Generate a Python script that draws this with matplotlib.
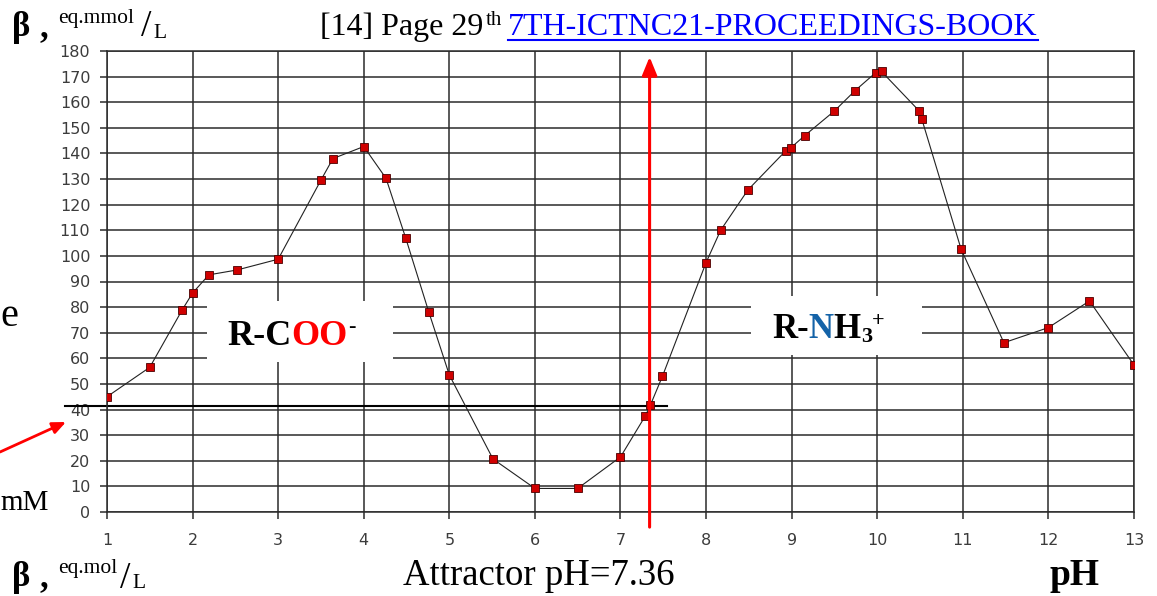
import matplotlib
matplotlib.use("Agg")
import matplotlib.pyplot as plt
from matplotlib.transforms import IdentityTransform
from matplotlib.patches import Rectangle

# ---------------- data ----------------
ph = [1.0, 1.5, 1.88, 2.0, 2.19, 2.52, 3.0, 3.5, 3.64, 4.0, 4.26, 4.49, 4.76,
      5.0, 5.51, 6.0, 6.5, 7.0, 7.29, 7.35, 7.49, 8.0, 8.17, 8.49, 8.93, 8.99,
      9.15, 9.5, 9.74, 9.98, 10.05, 10.49, 10.52, 10.98, 11.48, 12.0, 12.48, 13.0]
beta = [45, 56.5, 79, 85.5, 92.6, 94.5, 98.7, 129.6, 138, 142.7, 130.3, 107,
        78.1, 53.5, 20.7, 9.2, 9.2, 21.5, 37.5, 41.8, 53, 97.4, 110, 125.8, 141,
        142.2, 146.9, 156.6, 164.5, 171.5, 172, 156.6, 153.5, 102.6, 66.1, 72,
        82.4, 57.4]
x_ticks = list(range(1, 14))
y_ticks = list(range(0, 181, 10))
attractor_ph = 7.34
attractor_beta = 41.4

W, H = 1157, 596
fig = plt.figure(figsize=(W / 100, H / 100), dpi=100)
fig.patch.set_facecolor("white")

L, R, T, B = 107, 1134, 51, 512
ax = fig.add_axes([L / W, 1 - B / H, (R - L) / W, (B - T) / H])
ax.set_xlim(1, 13)
ax.set_ylim(0, 180)
ax.set_xticks(x_ticks)
ax.set_yticks(y_ticks)
ax.set_axisbelow(True)
grid_c = "#2b2b2b"
ax.grid(True, color=grid_c, linewidth=1.1)
for s in ax.spines.values():
    s.set_color(grid_c)
    s.set_linewidth(1.1)
ax.tick_params(direction="out", length=5, width=1.1, color=grid_c,
               labelcolor="#3c3c3c", labelsize=11.5)
ax.tick_params(axis="y", pad=7)
ax.tick_params(axis="x", pad=10)
for lab in ax.get_xticklabels() + ax.get_yticklabels():
    lab.set_family("DejaVu Sans")

# white label boxes covering the grid
ax.add_patch(Rectangle((2.168, 58.6), 4.341 - 2.168, 82.4 - 58.6,
                       facecolor="white", edgecolor="none", zorder=1))
ax.add_patch(Rectangle((8.523, 61.3), 10.521 - 8.523, 84.4 - 61.3,
                       facecolor="white", edgecolor="none", zorder=1))

# attractor horizontal line
ax.plot([0.51, 7.54], [attractor_beta, attractor_beta], color="black",
        linewidth=1.5, clip_on=False, zorder=2)

# data
ax.plot(ph, beta, color="#222222", linewidth=0.8, marker="s", markersize=5.2,
        markerfacecolor="#d00000", markeredgecolor="#4a0000",
        markeredgewidth=0.6, zorder=3)

# red vertical arrow
ax.annotate("", xy=(attractor_ph, 177.7), xytext=(attractor_ph, -5.9),
            arrowprops=dict(arrowstyle="-|>,head_length=1.1,head_width=0.45",
                            color="#ff0000", lw=2.2, shrinkA=0, shrinkB=0),
            annotation_clip=False, zorder=4)
# red diagonal arrow (figure pixels)
ax.annotate("", xy=(66, H - 422), xytext=(0, H - 452),
            xycoords="figure pixels", textcoords="figure pixels",
            arrowprops=dict(arrowstyle="-|>,head_length=0.8,head_width=0.35",
                            color="#ff0000", lw=2.0, shrinkA=0, shrinkB=0),
            annotation_clip=False)

SERIF = "Liberation Serif"
ident = IdentityTransform()
renderer = fig.canvas.get_renderer()


def txt(x, y, s, size, **kw):
    kw.setdefault("family", SERIF)
    return fig.text(x, H - y, s, fontsize=size, transform=ident,
                    va="baseline", **kw)


def seq(x, y, pieces, weight="normal"):
    for s, size, color, dy, gap in pieces:
        t = txt(x + gap, y + dy, s, size, color=color, weight=weight)
        x = t.get_window_extent(renderer=renderer).x1
    return x


# top-left axis unit
txt(12, 36, "β", 25, weight="bold")
txt(40, 36, ",", 25, weight="bold")
seq(58, 36, [("eq.mmol", 15.5, "black", -13, 0), ("/", 27, "black", 0, 7),
             ("L", 15.5, "black", 2, 2)])

# bottom-left unit
txt(12, 586, "β", 25, weight="bold")
txt(40, 586, ",", 25, weight="bold")
seq(58, 588, [("eq.mol", 15.5, "black", -15, 0), ("/", 27, "black", 0, 3),
              ("L", 15.5, "black", 0, 2)])

# citation
seq(320, 35, [("[14] Page 29", 23, "black", 0, 0), ("th", 15, "black", -10, 2)])
link = txt(508, 35, "7TH-ICTNC21-PROCEEDINGS-BOOK", 23, color="#0000ff")
ext = link.get_window_extent(renderer=renderer)
fig.add_artist(plt.Line2D([ext.x0, ext.x1], [H - 40, H - 40], color="#0000ff",
                          linewidth=1.5, transform=ident))

# bottom texts
txt(403, 585, "Attractor pH=7.36", 26.5)
txt(1050, 585, "pH", 27, weight="bold")

# fragments at the left edge
txt(0, 326, "e", 29)
txt(0, 510, "mM", 21)

# group labels
seq(227, 345, [("R-C", 26, "black", 0, 0), ("OO", 26, "#ff0000", 0, 0),
               ("-", 16, "black", -13, 1)], weight="bold")
seq(772, 338, [("R-", 25, "black", 0, 0), ("N", 25, "#1463a8", 0, 0),
               ("H", 25, "black", 0, 0), ("3", 16, "black", 4, 0),
               ("+", 16, "black", -12, 0)], weight="bold")

fig.savefig("out.png", dpi=100)
